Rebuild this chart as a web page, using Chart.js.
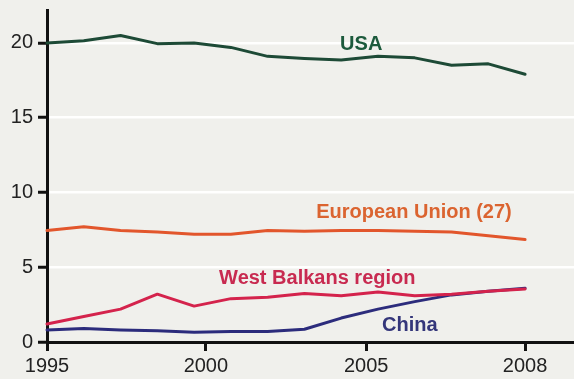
<!DOCTYPE html>
<html>
<head>
<meta charset="utf-8">
<script src="https://cdn.jsdelivr.net/npm/chart.js@4/dist/chart.umd.min.js"></script>
<style>
  html, body { margin: 0; padding: 0; background: #f0f0ec; }
  #wrap { width: 574px; height: 379px; }
</style>
</head>
<body>
<div id="wrap"><canvas id="c" width="574" height="379"></canvas></div>
<script>
// ---- data ----
const years = [1995,1996,1997,1998,1999,2000,2001,2002,2003,2004,2005,2006,2007,2008];
const usa = [20.0, 20.15, 20.5, 19.95, 20.0, 19.7, 19.1, 18.95, 18.85, 19.1, 19.0, 18.5, 18.6, 17.9];
const eu = [7.45, 7.7, 7.45, 7.35, 7.2, 7.2, 7.45, 7.4, 7.45, 7.45, 7.4, 7.35, 7.1, 6.85];
const westBalkans = [1.2, 1.7, 2.2, 3.2, 2.4, 2.9, 3.0, 3.25, 3.1, 3.35, 3.1, 3.2, 3.4, 3.55];
const china = [0.8, 0.9, 0.8, 0.75, 0.65, 0.7, 0.7, 0.85, 1.6, 2.2, 2.7, 3.15, 3.4, 3.6];
const seriesNames = ['USA', 'European Union (27)', 'West Balkans region', 'China'];
// x tick labels and where the original drawing placed them (in year units)
const xTickLabels = ['1995', '2000', '2005', '2008'];
const xTickAt = [1995, 1999.32, 2003.68, 2008];
const yTicks = [0, 5, 10, 15, 20];
// series label anchors (year units, value units)
const labelX = [2002.97, 2002.32, 1999.68, 2004.11];
const labelY = [19.53, 8.29, 3.88, 0.74];

const lineColors = ['#1d4a36', '#e2562c', '#d4234c', '#2c2c7c'];
const textColors = ['#1c5a3c', '#db6430', '#c82a50', '#34367a'];

const toPts = arr => arr.map((v, i) => ({x: years[i], y: v}));
const allSeries = [usa, eu, westBalkans, china];

const bgPlugin = {
  id: 'bg',
  beforeDraw(chart) {
    const ctx = chart.ctx;
    ctx.save();
    ctx.fillStyle = '#f0f0ec';
    ctx.fillRect(0, 0, chart.width, chart.height);
    ctx.restore();
  }
};
const labelPlugin = {
  id: 'seriesLabels',
  afterDatasetsDraw(chart) {
    const ctx = chart.ctx;
    const xs = chart.scales.x, ys = chart.scales.y;
    ctx.save();
    ctx.font = 'bold 20px "Liberation Sans", Arial, sans-serif';
    ctx.textAlign = 'left';
    ctx.textBaseline = 'alphabetic';
    seriesNames.forEach((name, i) => {
      ctx.fillStyle = textColors[i];
      ctx.fillText(name, xs.getPixelForValue(labelX[i]), ys.getPixelForValue(labelY[i]));
    });
    ctx.restore();
  }
};

new Chart(document.getElementById('c'), {
  type: 'line',
  data: {
    datasets: allSeries.map((s, i) => ({
      label: seriesNames[i],
      data: toPts(s),
      borderColor: lineColors[i],
      borderWidth: 3,
      pointRadius: 0,
      tension: 0,
      fill: false,
      borderJoinStyle: 'round',
      borderCapStyle: 'round',
      clip: false
    }))
  },
  options: {
    responsive: false,
    animation: false,
    layout: { padding: { top: 10, right: 0, left: 0, bottom: 0 } },
    plugins: { legend: { display: false }, tooltip: { enabled: false } },
    scales: {
      x: {
        type: 'linear',
        min: 1995,
        max: 2009.33,
        afterBuildTicks(scale) { scale.ticks = xTickAt.map(v => ({ value: v })); },
        afterFit(scale) { scale.height = 37; scale.paddingLeft = 0; scale.paddingRight = 0; },
        ticks: {
          autoSkip: false,
          maxRotation: 0,
          padding: 3,
          color: '#222',
          font: { family: '"Liberation Sans", Arial, sans-serif', size: 20 },
          callback: (v, idx) => xTickLabels[idx]
        },
        grid: { drawOnChartArea: false, drawTicks: true, tickLength: 9, tickColor: '#111', tickWidth: 3 },
        border: { display: true, color: '#111', width: 3 }
      },
      y: {
        min: 0,
        max: 22.2,
        afterBuildTicks(scale) { scale.ticks = yTicks.map(v => ({ value: v })); },
        afterFit(scale) { scale.width = 47; scale.paddingTop = 0; scale.paddingBottom = 0; },
        ticks: {
          padding: 5,
          color: '#222',
          font: { family: '"Liberation Sans", Arial, sans-serif', size: 20 },
          callback: v => String(v)
        },
        grid: { color: 'rgba(255,255,255,0.95)', lineWidth: 2.5, tickLength: 9, tickColor: '#111', tickWidth: 3 },
        border: { display: true, color: '#111', width: 3 }
      }
    }
  },
  plugins: [bgPlugin, labelPlugin]
});
</script>
</body>
</html>
